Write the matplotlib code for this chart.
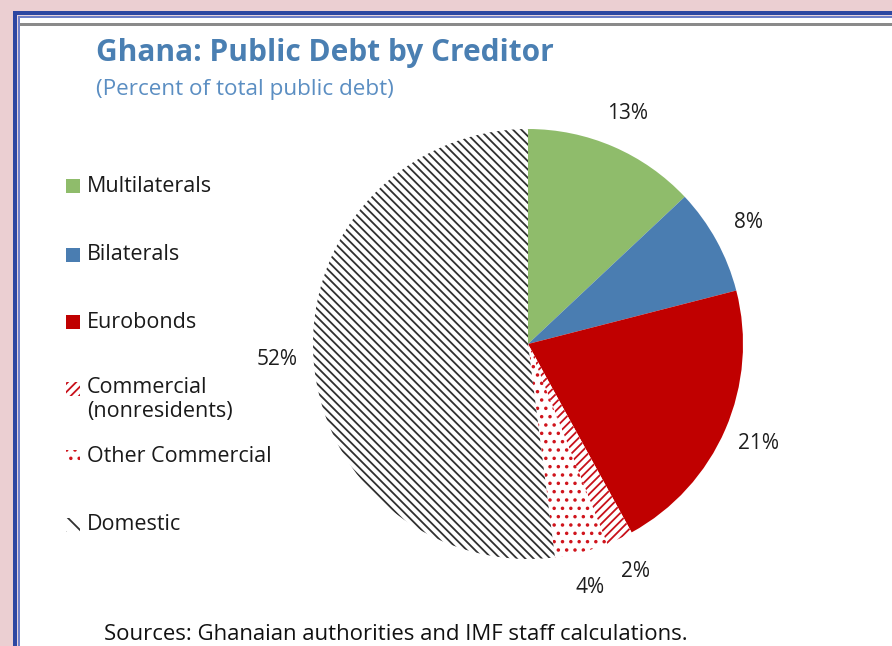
import matplotlib.pyplot as plt
from matplotlib.patches import Rectangle

# data
categories = ["Multilaterals", "Bilaterals", "Eurobonds",
              "Commercial\n(nonresidents)", "Other Commercial", "Domestic"]
shares = [13, 8, 21, 2, 4, 52]
pct_labels = ["13%", "8%", "21%", "2%", "4%", "52%"]
colors = ["#8fbc6b", "#4a7db1", "#c00000", "#c8101a", "#d0141c", "#303030"]
faces = ["#8fbc6b", "#4a7db1", "#c00000", "white", "white", "white"]
hatches = [None, None, None, "////", "..", "\\\\\\\\"]

plt.rcParams['font.family'] = ['Open Sans', 'DejaVu Sans']
plt.rcParams['hatch.linewidth'] = 1.3

W, H = 892, 646
fig = plt.figure(figsize=(W / 100, H / 100), dpi=100, facecolor="#ebcfd2")

def px(x, y, w, h):
    # pixel box (top-left origin) -> figure fraction
    return (x / W, 1 - (y + h) / H, w / W, h / H)

def box(x, y, w, h, z=-5, **kw):
    l, b, ww, hh = px(x, y, w, h)
    fig.add_artist(Rectangle((l, b), ww, hh, transform=fig.transFigure, zorder=z, **kw))

# frame
box(13, 11, W, H, facecolor="#2d47a2", lw=0)
box(17, 15, W, H, facecolor="#e6d3dc", lw=0)
box(18, 16, W, H, facecolor="#6f80c8", lw=0)
box(20, 18, W, H, facecolor="white", lw=0)
box(20, 23, W, 3, facecolor="#8a8a8a", lw=0)

# titles
fig.text(96 / W, 1 - 53 / H, "Ghana: Public Debt by Creditor", fontsize=21.5,
         fontweight="bold", color="#4a7fb2", va="center")
fig.text(96 / W, 1 - 89 / H, "(Percent of total public debt)", fontsize=16.2,
         color="#5b8ec2", va="center")
fig.text(104 / W, 1 - 634 / H, "Sources: Ghanaian authorities and IMF staff calculations.",
         fontsize=15.9, color="#111111", va="center")

# pie
cx, cy, r = 528, 344, 215
ax = fig.add_axes(px(cx - r, cy - r, 2 * r, 2 * r))
ax.set_zorder(2)
wedges, texts = ax.pie(shares, labels=pct_labels, startangle=90, counterclock=False,
                       colors=faces, labeldistance=1.17,
                       wedgeprops=dict(linewidth=0),
                       textprops=dict(fontsize=15, color="#1e1e1e"))
for w, c, h in zip(wedges, colors, hatches):
    if h:
        w.set_hatch(h)
        w.set_edgecolor(c)
        w.set_linewidth(0)
for t in texts:
    t.set_ha("center")
    t.set_va("center")
ax.set_xlim(-1, 1)
ax.set_ylim(-1, 1)
ax.set_aspect("equal")
ax.axis("off")

# legend (manual rows)
text_y = [186, 255, 322, 389, 457, 525]
for name, c, f, h, ty in zip(categories, colors, faces, hatches, text_y):
    if h is None:
        box(66, ty - 7, 14, 14, z=3, facecolor=f, lw=0)
    else:
        box(66, ty - 7, 14, 14, z=3, facecolor="white", edgecolor=c,
            hatch=h.replace("\\\\\\\\", "\\\\"), lw=0)
    if "\n" in name:
        fig.text(87 / W, 1 - (ty - 12) / H, name, fontsize=15.5, color="#1a1a1a",
                 va="top", linespacing=1.2)
    else:
        fig.text(87 / W, 1 - ty / H, name, fontsize=15.5, color="#1a1a1a", va="center")

fig.savefig("out.png", dpi=100, facecolor=fig.get_facecolor())
